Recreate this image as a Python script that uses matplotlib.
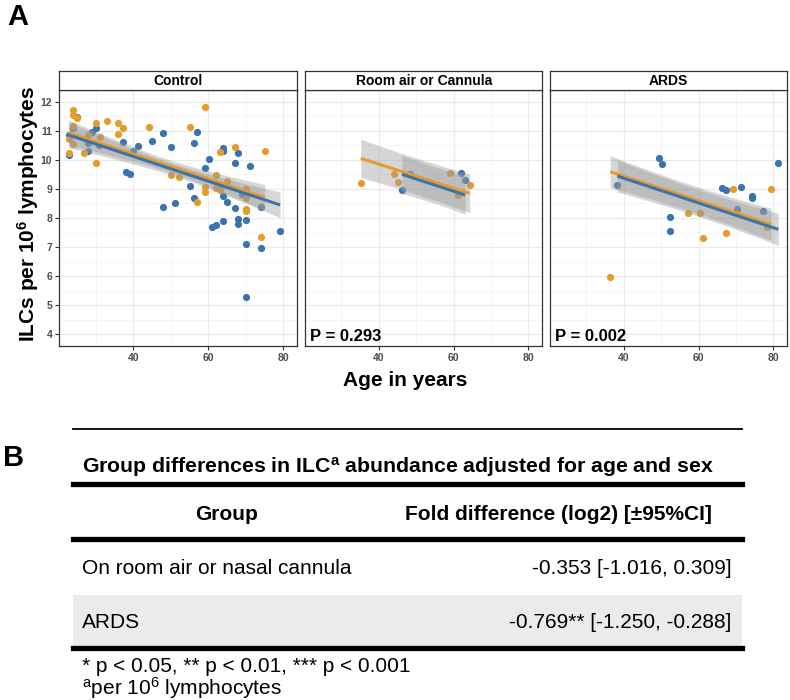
import numpy as np
import matplotlib
matplotlib.use("Agg")
import matplotlib.pyplot as plt
from matplotlib.patches import Rectangle
from matplotlib.lines import Line2D

plt.rcParams['font.family'] = ['Liberation Sans', 'DejaVu Sans']
plt.rcParams['mathtext.fontset'] = 'custom'
plt.rcParams['mathtext.rm'] = 'Liberation Sans'
plt.rcParams['mathtext.bf'] = 'Liberation Sans:bold'
plt.rcParams['mathtext.it'] = 'Liberation Sans:italic'

# ---------------- data ----------------
panel_titles = ["Control", "Room air or Cannula", "ARDS"]
panel_pvalues = [None, "P = 0.293", "P = 0.002"]

ctrl_age_blue = [22.8, 22.9, 23.9, 25.1, 28.0, 28.0, 28.9, 30.0, 30.9, 37.2, 38.0, 39.1, 40.0, 41.2,
                 45.1, 48.0, 48.0, 50.0, 51.1, 55.0, 56.1, 56.1, 57.1, 59.1, 60.1, 61.1, 62.1,
                 64.0, 64.0, 64.0, 64.0, 65.1, 67.1, 67.1, 68.0, 68.0, 68.0, 69.1, 70.0, 70.0,
                 70.0, 71.1, 74.0, 74.0, 79.1]
ctrl_ilc_blue = [10.17, 10.85, 11.10, 11.46, 10.57, 10.30, 10.97, 11.08, 10.51, 10.60, 9.59, 9.51,
                 10.30, 10.48, 10.66, 10.91, 8.37, 10.43, 8.52, 9.11, 10.57, 8.70, 10.95, 9.73,
                 10.03, 7.70, 7.76, 10.40, 10.32, 8.76, 7.88, 8.56, 9.90, 8.33, 10.22, 7.97,
                 7.78, 8.83, 7.93, 7.11, 5.30, 9.80, 8.37, 6.96, 7.56]
ctrl_age_orange = [22.8, 22.8, 23.9, 23.9, 25.1, 24.0, 24.0, 26.9, 28.0, 30.0, 30.0, 31.1, 33.1,
                   36.0, 36.0, 37.2, 44.1, 50.0, 52.1, 55.0, 57.1, 59.1, 59.1, 59.1, 62.1, 62.1,
                   63.1, 63.1, 65.1, 67.1, 70.0, 70.0, 70.0, 70.0, 74.0, 75.0]
ctrl_ilc_orange = [10.72, 10.25, 11.71, 11.54, 11.43, 11.15, 10.56, 10.22, 10.85, 11.25, 9.89,
                   10.77, 11.35, 11.25, 10.88, 11.08, 11.14, 9.48, 9.40, 11.14, 8.55, 11.82,
                   9.08, 8.91, 9.48, 9.04, 10.26, 8.96, 9.27, 10.45, 9.00, 8.70, 8.31, 8.24,
                   7.34, 10.30]

room_age_blue = [46.2, 48.3, 62.1, 63.1]
room_ilc_blue = [8.96, 9.51, 9.54, 9.31]
room_age_orange = [35.2, 44.2, 45.2, 59.1, 61.2, 64.3]
room_ilc_orange = [9.19, 9.50, 9.25, 9.54, 8.79, 9.12]

ards_age_blue = [38.3, 49.3, 50.3, 52.4, 52.4, 66.3, 67.4, 71.4, 70.3, 74.3, 74.3, 77.3, 81.3]
ards_ilc_blue = [9.13, 10.05, 9.85, 8.03, 7.56, 9.04, 8.97, 9.07, 8.32, 8.76, 8.68, 8.25, 9.90]
ards_age_orange = [36.4, 57.3, 60.4, 61.3, 67.4, 69.3, 79.4, 78.2]
ards_ilc_orange = [5.97, 8.17, 8.17, 7.31, 7.48, 9.01, 9.01, 7.70]

# model fits: [age_start, age_end], [ilc_start, ilc_end]
# CI half-width at ends and at centre
ctrl_fit_blue = dict(age=[22.8, 79.1], ilc=[10.85, 8.45], hw_end=0.44, hw_mid=0.21)
ctrl_fit_orange = dict(age=[22.8, 75.0], ilc=[10.93, 8.71], hw_end=0.44, hw_mid=0.21)
room_fit_blue = dict(age=[46.2, 63.1], ilc=[9.50, 8.79], hw_end=0.66, hw_mid=0.63)
room_fit_orange = dict(age=[35.2, 64.3], ilc=[10.05, 8.85], hw_end=0.66, hw_mid=0.62)
ards_fit_blue = dict(age=[38.3, 81.3], ilc=[9.44, 7.61], hw_end=0.55, hw_mid=0.46)
ards_fit_orange = dict(age=[36.4, 79.4], ilc=[9.59, 7.78], hw_end=0.55, hw_mid=0.46)

table_title = r"Group differences in ILC$^{\mathbf{a}}$ abundance adjusted for age and sex"
table_header = ["Group", "Fold difference (log2) [±95%CI]"]
table_groups = ["On room air or nasal cannula", "ARDS"]
table_values = ["-0.353 [-1.016, 0.309]", "-0.769** [-1.250, -0.288]"]
footnote1 = "* p < 0.05, ** p < 0.01, *** p < 0.001"
footnote2 = r"$^{\mathrm{a}}$per 10$^{\mathrm{6}}$ lymphocytes"

x_ticks = [40, 60, 80]
y_ticks = [4, 5, 6, 7, 8, 9, 10, 11, 12]

# ---------------- style ----------------
BLUE = "#3B74AD"
ORANGE = "#E69C2B"
W, H = 790, 700

fig = plt.figure(figsize=(W / 100, H / 100), dpi=100)
fig.patch.set_facecolor("white")


def fx(px):
    return px / W


def fy(py):
    return 1 - py / H


panels_x = [(59.3, 297.3), (305.0, 542.3), (550.0, 787.3)]
top, bottom, strip_top = 90.0, 345.7, 70.7

panel_data = [
    (ctrl_age_blue, ctrl_ilc_blue, ctrl_age_orange, ctrl_ilc_orange, ctrl_fit_blue, ctrl_fit_orange),
    (room_age_blue, room_ilc_blue, room_age_orange, room_ilc_orange, room_fit_blue, room_fit_orange),
    (ards_age_blue, ards_ilc_blue, ards_age_orange, ards_ilc_orange, ards_fit_blue, ards_fit_orange),
]


def draw_fit(ax, fit, color):
    a0, a1 = fit["age"]
    y0, y1 = fit["ilc"]
    xs = np.linspace(a0, a1, 60)
    ys = y0 + (y1 - y0) * (xs - a0) / (a1 - a0)
    xm = (a0 + a1) / 2
    b = (fit["hw_end"] ** 2 - fit["hw_mid"] ** 2) / ((a1 - xm) ** 2)
    hw = np.sqrt(fit["hw_mid"] ** 2 + b * (xs - xm) ** 2)
    ax.fill_between(xs, ys - hw, ys + hw, color="#999999", alpha=0.4, lw=0, zorder=3)
    return xs, ys


for i, ((l, r), title, pval, dat) in enumerate(zip(panels_x, panel_titles, panel_pvalues, panel_data)):
    ax = fig.add_axes([fx(l), fy(bottom), fx(r - l), (bottom - top) / H])
    ax.set_xlim(20.3, 83.7)
    ax.set_ylim(3.61, 12.40)
    ax.set_xticks(x_ticks)
    ax.set_xticks([30, 50, 70], minor=True)
    ax.set_yticks(y_ticks)
    ax.set_yticks(np.arange(4.5, 12.0, 1.0), minor=True)
    ax.grid(which="major", color="#EBEBEB", lw=0.9, zorder=0)
    ax.grid(which="minor", color="#F2F2F2", lw=0.5, zorder=0)
    ax.set_axisbelow(True)
    for s in ax.spines.values():
        s.set_color("#333333")
        s.set_linewidth(0.9)
    ax.tick_params(which="minor", length=0)
    ax.tick_params(which="major", length=3, width=0.8, color="#333333",
                   labelsize=7.5, labelcolor="#4D4D4D", pad=2)
    for lab in ax.get_xticklabels():
        lab.set_fontweight("bold")
    if i == 0:
        for lab in ax.get_yticklabels():
            lab.set_fontweight("bold")
    else:
        ax.tick_params(axis="y", left=False, labelleft=False)

    ab, ib, ao, io, fb, fo = dat
    ax.scatter(ab, ib, s=27, color=BLUE, lw=0, zorder=2)
    ax.scatter(ao, io, s=27, color=ORANGE, lw=0, zorder=2)
    xo, yo = draw_fit(ax, fo, ORANGE)
    xb, yb = draw_fit(ax, fb, BLUE)
    ax.plot(xo, yo, color=ORANGE, lw=2.2, zorder=4, solid_capstyle="butt")
    ax.plot(xb, yb, color=BLUE, lw=2.2, zorder=5, solid_capstyle="butt")

    if pval:
        ax.text(0.022, 0.036, pval, transform=ax.transAxes, fontsize=12,
                fontweight="bold", ha="left", va="center", zorder=6)

    # strip
    sax = fig.add_axes([fx(l), fy(top), fx(r - l), (top - strip_top) / H])
    sax.set_xticks([])
    sax.set_yticks([])
    sax.set_facecolor("white")
    for s in sax.spines.values():
        s.set_color("#333333")
        s.set_linewidth(0.9)
    sax.text(0.5, 0.45, title, ha="center", va="center", fontsize=10, fontweight="bold")

# axis labels
fig.text(fx(28), fy(214), r"ILCs per 10$^{\mathbf{6}}$ lymphocytes", rotation=90,
         ha="center", va="center", fontsize=15, fontweight="bold")
fig.text(fx(405), fy(381), "Age in years", ha="center", va="center", fontsize=15, fontweight="bold")

# panel letters
fig.text(fx(7), fy(17), "A", ha="left", va="center", fontsize=21, fontweight="bold")
fig.text(fx(3), fy(458), "B", ha="left", va="center", fontsize=21, fontweight="bold")

# ---------------- table ----------------
tx0, tx1 = 73.0, 741.5
fig.add_artist(Line2D([fx(tx0), fx(tx1)], [fy(429.3), fy(429.3)], color="black", lw=1.3))
for yy in [484.3, 539.0, 648.0]:
    fig.add_artist(Line2D([fx(tx0), fx(tx1)], [fy(yy), fy(yy)], color="black", lw=3.8))
fig.add_artist(Rectangle((fx(tx0), fy(645.7)), fx(tx1 - tx0), (645.7 - 594.5) / H,
                         facecolor="#EBEBEB", edgecolor="none", zorder=0))

fig.text(fx(81.7), fy(466.7), table_title, ha="left", va="center", fontsize=15.3, fontweight="bold")
fig.text(fx(226.7), fy(515), table_header[0], ha="center", va="center", fontsize=15, fontweight="bold")
fig.text(fx(558), fy(515), table_header[1], ha="center", va="center", fontsize=15, fontweight="bold")
for yy, g, v in zip([568.0, 622.7], table_groups, table_values):
    fig.text(fx(81.7), fy(yy), g, ha="left", va="center", fontsize=15)
    fig.text(fx(731.6), fy(yy), v, ha="right", va="center", fontsize=15)
fig.text(fx(81.7), fy(666.7), footnote1, ha="left", va="center", fontsize=15)
fig.text(fx(81.7), fy(688.0), footnote2, ha="left", va="center", fontsize=15)

fig.savefig("out.png", dpi=100, facecolor="white")
